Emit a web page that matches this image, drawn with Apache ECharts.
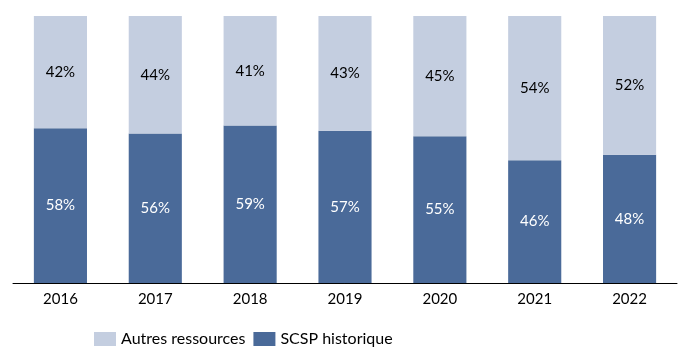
<!DOCTYPE html>
<html>
<head>
<meta charset="utf-8">
<script src="https://cdn.jsdelivr.net/npm/echarts@6/dist/echarts.min.js"></script>
<style>
  html, body { margin: 0; padding: 0; background: #fff; }
  #chart { width: 685px; height: 353px; }
</style>
</head>
<body>
<div id="chart"></div>
<script>
const years = ['2016', '2017', '2018', '2019', '2020', '2021', '2022'];
const scspHistorique = [58, 56, 59, 57, 55, 46, 48];
const autresRessources = [42, 44, 41, 43, 45, 54, 52];

const font = 'Lato, "Open Sans", sans-serif';

const chart = echarts.init(document.getElementById('chart'));
chart.setOption({
  animation: false,
  textStyle: { fontFamily: font },
  grid: { left: 13, right: 8, top: 16, bottom: 70, containLabel: false },
  legend: {
    bottom: 1,
    left: 89,
    itemWidth: 22,
    itemHeight: 14,
    itemGap: 8,
    icon: 'rect',
    textStyle: { fontSize: 16, color: '#000', fontFamily: font },
    data: ['Autres ressources', 'SCSP historique']
  },
  xAxis: {
    type: 'category',
    data: years,
    axisLine: { lineStyle: { color: '#000', width: 1 } },
    axisTick: { show: false },
    axisLabel: { fontSize: 15, color: '#000', margin: 9, fontFamily: font }
  },
  yAxis: {
    type: 'value',
    min: 0,
    max: 100,
    show: false
  },
  series: [
    {
      name: 'SCSP historique',
      type: 'bar',
      stack: 'total',
      data: scspHistorique,
      barWidth: '56%',
      itemStyle: { color: '#4a6a99' },
      label: { show: true, position: 'inside', formatter: '{c}%', color: '#fff', fontSize: 15, fontFamily: font }
    },
    {
      name: 'Autres ressources',
      type: 'bar',
      stack: 'total',
      data: autresRessources,
      barWidth: '56%',
      itemStyle: { color: '#c4cee0' },
      label: { show: true, position: 'inside', formatter: '{c}%', color: '#000', fontSize: 15, fontFamily: font }
    }
  ]
});
</script>
</body>
</html>
